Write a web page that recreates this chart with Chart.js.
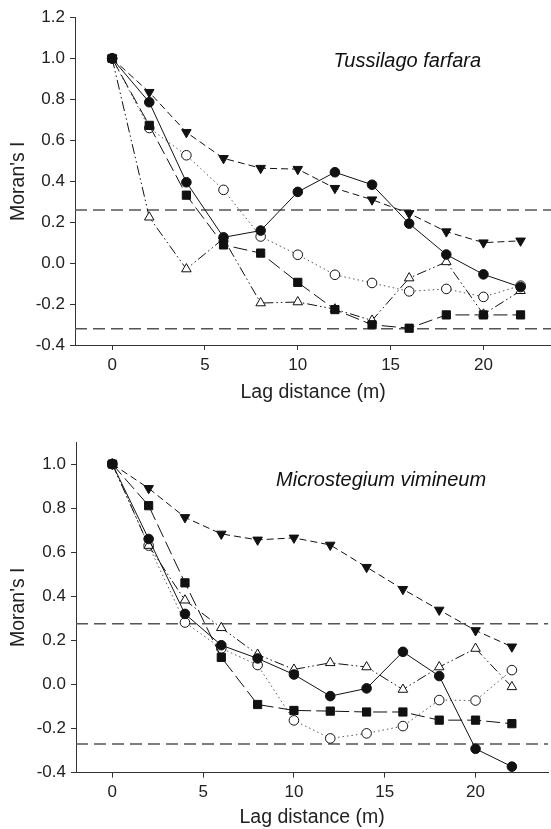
<!DOCTYPE html>
<html>
<head>
<meta charset="utf-8">
<script src="https://cdn.jsdelivr.net/npm/chart.js@4"></script>
<style>
  html, body { margin: 0; padding: 0; background: #fff; overflow: hidden; }
  .wrap { position: absolute; left: 0; width: 551px; overflow: hidden; }
  .wrap canvas { display: block; }
  #topWrap { top: 0; height: 410px; }
  #botWrap { top: 410px; height: 419px; }
</style>
</head>
<body>
<!-- canvases are a bit wider than the page so the plot runs off the right edge, as in the original figure -->
<div class="wrap" id="topWrap"><canvas id="topChart" width="558" height="410"></canvas></div>
<div class="wrap" id="botWrap"><canvas id="botChart" width="555" height="419"></canvas></div>
<script>
// Lag distances (m)
const lags = [0, 2, 4, 6, 8, 10, 12, 14, 16, 18, 20, 22];
const xTicks = [0, 5, 10, 15, 20];

// Tussilago farfara
const tussCircle   = [1.0, 0.786, 0.395, 0.126, 0.159, 0.348, 0.444, 0.383, 0.193, 0.042, -0.055, -0.117];
const tussTriDown  = [1.0, 0.835, 0.639, 0.512, 0.464, 0.459, 0.366, 0.31, 0.243, 0.154, 0.10, 0.109];
const tussOpenCirc = [1.0, 0.66, 0.527, 0.358, 0.13, 0.041, -0.057, -0.097, -0.138, -0.126, -0.165, -0.11];
const tussSquare   = [1.0, 0.673, 0.332, 0.089, 0.049, -0.094, -0.227, -0.301, -0.318, -0.253, -0.253, -0.253];
const tussTriUp    = [1.0, 0.224, -0.029, 0.12, -0.195, -0.19, -0.225, -0.28, -0.073, 0.006, -0.25, -0.135];
const tussLimits   = [0.26, -0.32];
const tussYTicks   = [-0.4, -0.2, 0.0, 0.2, 0.4, 0.6, 0.8, 1.0, 1.2];

// Microstegium vimineum
const micrTriDown  = [1.0, 0.89, 0.758, 0.683, 0.656, 0.665, 0.633, 0.532, 0.432, 0.338, 0.245, 0.171];
const micrSquare   = [1.0, 0.811, 0.461, 0.123, -0.091, -0.118, -0.121, -0.125, -0.125, -0.162, -0.162, -0.178];
const micrCircle   = [1.0, 0.66, 0.32, 0.178, 0.118, 0.045, -0.053, -0.018, 0.148, 0.038, -0.292, -0.373];
const micrOpenCirc = [1.0, 0.63, 0.281, 0.164, 0.088, -0.163, -0.245, -0.222, -0.189, -0.071, -0.073, 0.065];
const micrTriUp    = [1.0, 0.63, 0.382, 0.257, 0.136, 0.068, 0.098, 0.079, -0.023, 0.079, 0.163, -0.011];
const micrLimits   = [0.275, -0.27];
const micrYTicks   = [-0.4, -0.2, 0.0, 0.2, 0.4, 0.6, 0.8, 1.0];

const FONT = '"Liberation Sans", Arial, sans-serif';
const INK = '#111';

function pts(ys) {
    return ys.map((y, i) => ({ x: lags[i], y: y }));
}

function series(ys, style, order) {
    return Object.assign({
        data: pts(ys),
        borderColor: INK,
        borderWidth: 1,
        pointBorderColor: INK,
        pointBorderWidth: 1,
        tension: 0,
        order: order
    }, style);
}

const styles = {
    circle:   { pointStyle: 'circle', pointRadius: 4.8, pointBackgroundColor: INK, borderDash: [] },
    triDown:  { pointStyle: 'triangle', pointRotation: 180, pointRadius: 5.5, pointBackgroundColor: INK, borderDash: [7, 4] },
    openCirc: { pointStyle: 'circle', pointRadius: 4.8, pointBackgroundColor: '#fff', borderDash: [1.5, 3], borderColor: '#555' },
    square:   { pointStyle: 'rect', pointRadius: 5.8, pointBackgroundColor: INK, borderDash: [14, 5] },
    triUp:    { pointStyle: 'triangle', pointRadius: 5.5, pointBackgroundColor: '#fff', borderDash: [10, 3, 1.5, 3, 1.5, 3] }
};

// significance limits, drawn across the whole plot
function limitLines(vals, xMin, xMax) {
    return vals.map(v => ({
        data: [{ x: xMin, y: v }, { x: xMax, y: v }],
        borderColor: '#555',
        borderWidth: 1.5,
        borderDash: [12, 6],
        pointRadius: 0,
        order: 20
    }));
}

// species name in italics inside the plot
const labelPlugin = {
    id: 'speciesLabel',
    afterDatasetsDraw(chart, args, opts) {
        const ctx = chart.ctx;
        const x = chart.scales.x.getPixelForValue(opts.x);
        const y = chart.scales.y.getPixelForValue(opts.y);
        ctx.save();
        ctx.font = 'italic 20px ' + FONT;
        ctx.fillStyle = '#111';
        ctx.textAlign = 'center';
        ctx.textBaseline = 'middle';
        ctx.fillText(opts.text, x, y);
        ctx.restore();
    }
};

function makeChart(id, cfg) {
    const xMin = -2, xMax = cfg.xMax;
    return new Chart(document.getElementById(id).getContext('2d'), {
        type: 'line',
        data: {
            datasets: [
                series(cfg.circle, styles.circle, 0),
                series(cfg.square, styles.square, 1),
                series(cfg.triUp, styles.triUp, 2),
                series(cfg.openCirc, styles.openCirc, 3),
                series(cfg.triDown, styles.triDown, 4)
            ].concat(limitLines(cfg.limits, xMin, xMax))
        },
        options: {
            responsive: false,
            animation: false,
            layout: { padding: { top: cfg.padTop, right: 0, bottom: 0, left: 0 } },
            plugins: {
                legend: { display: false },
                tooltip: { enabled: false },
                speciesLabel: { text: cfg.name, x: cfg.labelX, y: cfg.labelY }
            },
            scales: {
                x: {
                    type: 'linear',
                    min: xMin,
                    max: xMax,
                    afterBuildTicks: s => { s.ticks = xTicks.map(v => ({ value: v })); },
                    afterFit: s => { s.height = cfg.xHeight; },
                    grid: { drawOnChartArea: false, drawTicks: true, tickLength: 5, color: '#333' },
                    border: { color: '#333', width: 1 },
                    ticks: { color: '#222', font: { family: FONT, size: 17 }, padding: 5, maxRotation: 0 },
                    title: { display: true, text: 'Lag distance (m)', color: '#222',
                             font: { family: FONT, size: 19.5 }, padding: { top: 0, bottom: cfg.xTitlePad } }
                },
                y: {
                    min: -0.4,
                    max: cfg.yMax,
                    afterBuildTicks: s => { s.ticks = cfg.yTicks.map(v => ({ value: v })); },
                    afterFit: s => { s.width = cfg.yWidth; },
                    grid: { drawOnChartArea: false, drawTicks: true, tickLength: 5, color: '#333' },
                    border: { color: '#333', width: 1 },
                    ticks: { color: '#222', font: { family: FONT, size: 17 }, padding: 5,
                             callback: v => v.toFixed(1) },
                    title: { display: true, text: "Moran's I", color: '#222',
                             font: { family: FONT, size: 19.5 }, padding: { top: 7, bottom: 0 } }
                }
            }
        },
        plugins: [labelPlugin]
    });
}

makeChart('topChart', {
    name: 'Tussilago farfara', labelX: 15.9, labelY: 0.985,
    circle: tussCircle, square: tussSquare, triUp: tussTriUp, openCirc: tussOpenCirc, triDown: tussTriDown,
    limits: tussLimits, yTicks: tussYTicks, yMax: 1.2, xMax: 23.65,
    padTop: 17.5, yWidth: 75, xHeight: 65, xTitlePad: 6
});

makeChart('botChart', {
    name: 'Microstegium vimineum', labelX: 14.8, labelY: 0.925,
    circle: micrCircle, square: micrSquare, triUp: micrTriUp, openCirc: micrOpenCirc, triDown: micrTriDown,
    limits: micrLimits, yTicks: micrYTicks, yMax: 1.1, xMax: 24,
    padTop: 32, yWidth: 76, xHeight: 56.4, xTitlePad: 0
});
</script>
</body>
</html>
